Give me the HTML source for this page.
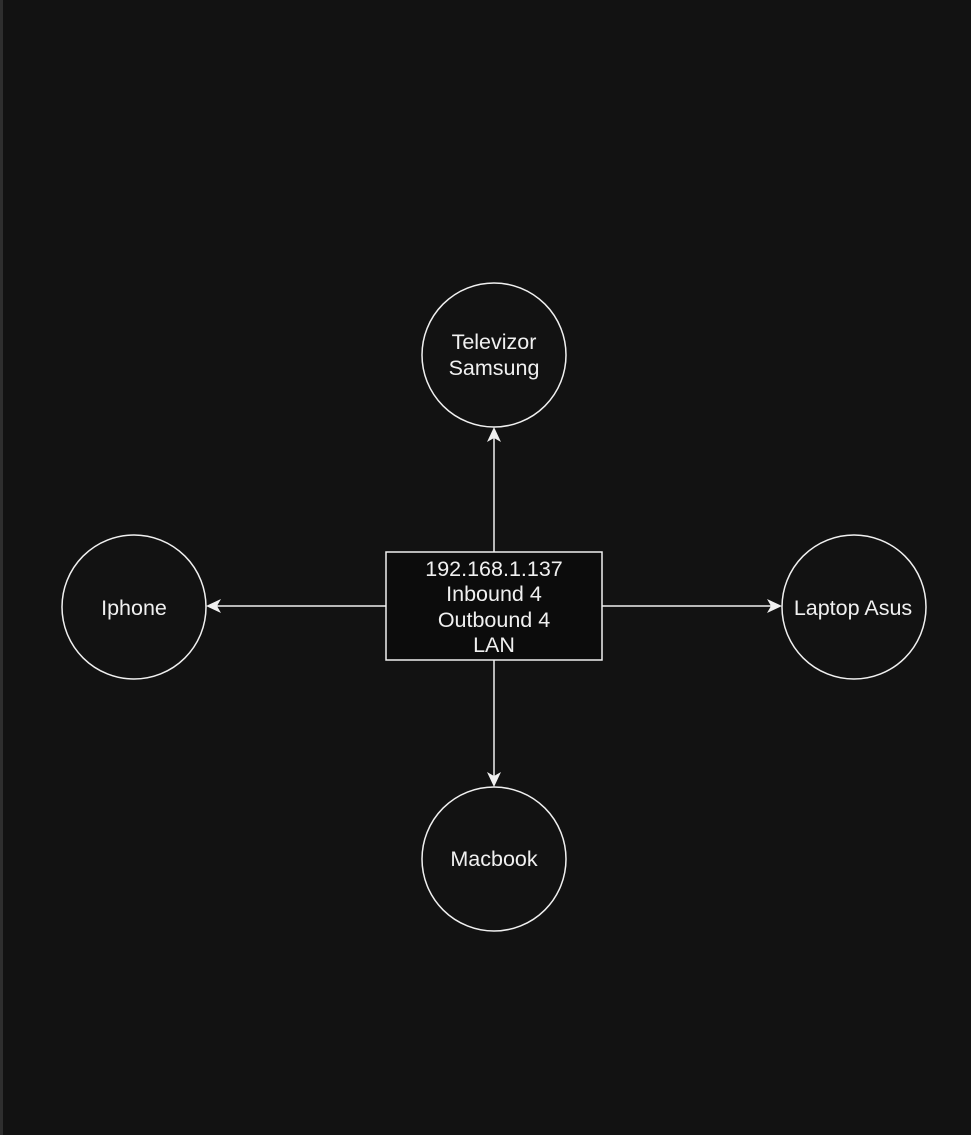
<!DOCTYPE html>
<html><head><style>
html,body{margin:0;padding:0;background:#121212;}
body{width:971px;height:1135px;overflow:hidden;position:relative;}
#edge{position:absolute;left:0;top:0;width:3px;height:1135px;background:#2e2e2e;}
svg{position:absolute;left:0;top:0;}
text{font-family:"Liberation Sans",sans-serif;font-size:21.5px;fill:#f0f0f0;text-anchor:middle;}
</style></head><body>
<div id="edge"></div>
<svg width="971" height="1135" viewBox="0 0 971 1135">
<g stroke="#f0f0f0" stroke-width="1.5" fill="none">
<circle cx="494" cy="355" r="72"/>
<circle cx="134" cy="607" r="72"/>
<circle cx="854" cy="607" r="72"/>
<circle cx="494" cy="859" r="72"/>
<line x1="494" y1="552" x2="494" y2="436"/>
<line x1="494" y1="660" x2="494" y2="778"/>
<line x1="386" y1="606" x2="216" y2="606"/>
<line x1="602" y1="606" x2="772" y2="606"/>
</g>
<rect x="386" y="552" width="216" height="108" fill="#0c0c0c" stroke="#f0f0f0" stroke-width="1.5"/>
<g fill="#f0f0f0">
<polygon points="494,427 487,442 494,438 501,442"/>
<polygon points="494,787 487,772 494,776 501,772"/>
<polygon points="206,606 221,599 217,606 221,613"/>
<polygon points="782,606 767,599 771,606 767,613"/>
</g>
<text x="494" y="349">Televizor</text>
<text x="494" y="375">Samsung</text>
<text x="134" y="615">Iphone</text>
<text x="853" y="615">Laptop Asus</text>
<text x="494" y="866">Macbook</text>
<text x="494" y="576">192.168.1.137</text>
<text x="494" y="601">Inbound 4</text>
<text x="494" y="627">Outbound 4</text>
<text x="494" y="652">LAN</text>
</svg>
</body></html>
